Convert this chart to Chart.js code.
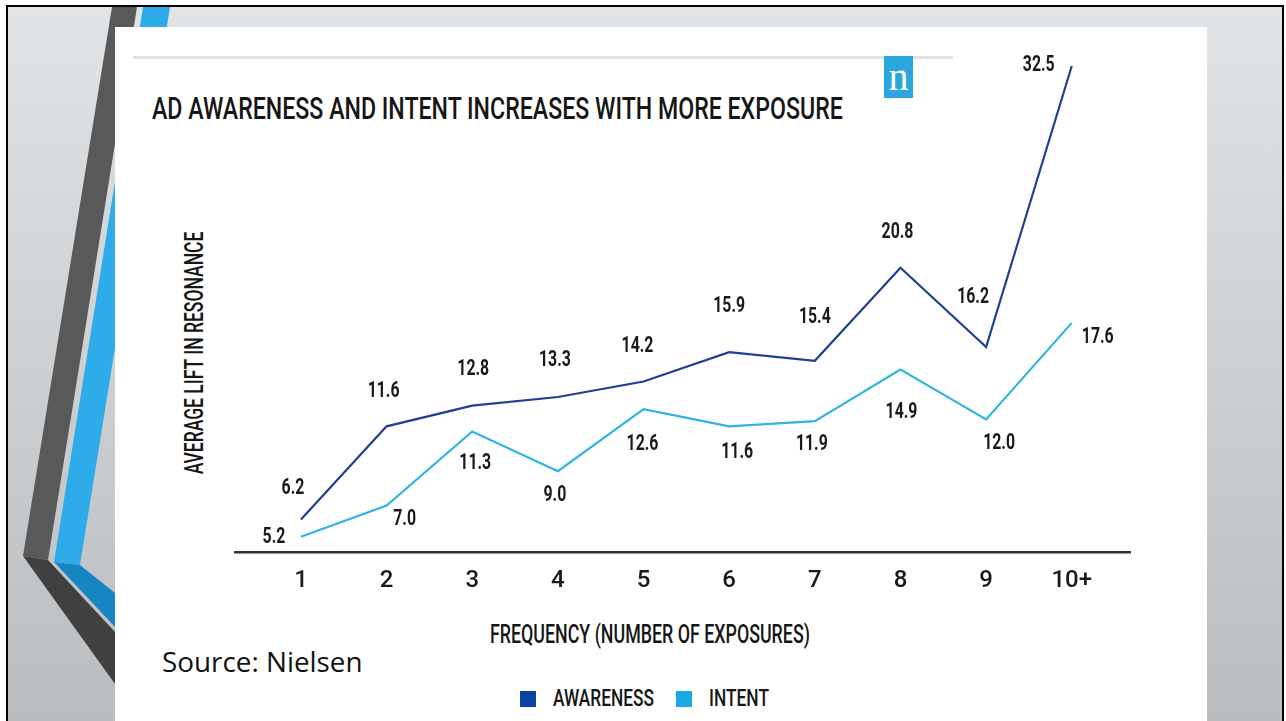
<!DOCTYPE html>
<html lang="en">
<head>
<meta charset="utf-8">
<script src="https://cdn.jsdelivr.net/npm/chart.js"></script>
<style>
  html, body { margin: 0; padding: 0; background: #fff; }
  body { width: 1286px; height: 721px; position: relative; overflow: hidden; }
  #slide {
    position: absolute; left: 6px; top: 5px; width: 1274px; height: 730px;
    border: 2px solid #000; border-bottom: none;
    background: linear-gradient(#e1e4e6, #b8bcbf);
  }
  #deco { position: absolute; left: 0; top: 0; }
  #card { position: absolute; left: 115px; top: 27px; width: 1092px; height: 700px; background: #fff; }
  #rule { position: absolute; left: 133px; top: 56px; width: 820px; height: 3px; background: #e2e2e2; }
  #logo {
    position: absolute; left: 884px; top: 56px; width: 29px; height: 42px; background: #2aa7df;
    color: #fff; font: 40px "Liberation Serif", serif; line-height: 42px; text-align: center;
  }
  .txt { position: absolute; white-space: nowrap; line-height: 1; color: #161616;
         font-family: Roboto, sans-serif; font-weight: 500; transform-origin: 0 0; }
  #title { left: 152px; top: 92px; font-size: 32px; }
  #xtitle { left: 490px; top: 622px; font-size: 25px; }
  #ytitle { font-size: 26px; transform-origin: 50% 50%; }
  #source { left: 162px; top: 648px; font: 27px "Open Sans", sans-serif; line-height: 1; color: #111; }
  .lg-box { position: absolute; width: 16px; height: 16px; }
  canvas { position: absolute; left: 0; top: 0; }
</style>
</head>
<body>
  <div id="slide"></div>
  <svg id="deco" width="1286" height="721">
    <polygon points="112,7 137,7 48,560 23,556" fill="#595959"/>
    <polygon points="23,556 48,560 115,632 115,684" fill="#404040"/>
    <polygon points="143,7 170,7 80,565 54,562" fill="#2eabe9"/>
    <polygon points="54,562 80,565 115,593 115,627" fill="#1686c3"/>
  </svg>
  <div id="card"></div>
  <div id="rule"></div>
  <div id="logo">n</div>
  <div class="txt" id="title" data-w="691">AD AWARENESS AND INTENT INCREASES WITH MORE EXPOSURE</div>
  <div class="txt" id="ytitle" data-w="243">AVERAGE LIFT IN RESONANCE</div>
  <div class="txt" id="xtitle" data-w="320">FREQUENCY (NUMBER OF EXPOSURES)</div>
  <div id="legend"></div>
  <div class="txt" id="source" data-w="201">Source: Nielsen</div>
  <canvas id="chart" width="1286" height="721"></canvas>

<script>
  // frequency buckets and average lift per bucket
  const categories = ['1', '2', '3', '4', '5', '6', '7', '8', '9', '10+'];
  const awareness = [6.2, 11.6, 12.8, 13.3, 14.2, 15.9, 15.4, 20.8, 16.2, 32.5];
  const intent = [5.2, 7.0, 11.3, 9.0, 12.6, 11.6, 11.9, 14.9, 12.0, 17.6];

  // where each value label sits relative to its point (dx, dy)
  const labelOffsets = [
    [[-8, -33], [-3, -37], [1, -39], [-3, -39], [-6, -38], [0, -48], [0, -46], [-3, -38], [-13, -52], [-33, -3]],
    [[-27, -2], [18, 11], [3, 29], [-3, 22], [-1, 33], [8, 24], [-3, 21], [1, 41], [13, 22], [26, 12]]
  ];

  const valueLabels = {
    id: 'valueLabels',
    afterDatasetsDraw(chart) {
      const ctx = chart.ctx;
      chart.data.datasets.forEach((ds, d) => {
        chart.getDatasetMeta(d).data.forEach((pt, i) => {
          const [dx, dy] = labelOffsets[d][i];
          ctx.save();
          ctx.translate(pt.x + dx, pt.y + dy);
          ctx.scale(0.72, 1);
          ctx.font = 'bold 22px Roboto';
          ctx.fillStyle = '#1a1a1a';
          ctx.textAlign = 'center';
          ctx.textBaseline = 'alphabetic';
          ctx.fillText(ds.data[i].y.toFixed(1), 0, 8);
          ctx.restore();
        });
      });
    }
  };

  const chart = new Chart(document.getElementById('chart'), {
    type: 'line',
    data: {
      datasets: [
        {
          label: 'AWARENESS',
          data: awareness.map((v, i) => ({ x: i + 1, y: v })),
          borderColor: '#1f3f8f', backgroundColor: '#0b42a3',
          borderWidth: 2.2, pointRadius: 0, tension: 0, clip: false
        },
        {
          label: 'INTENT',
          data: intent.map((v, i) => ({ x: i + 1, y: v })),
          borderColor: '#2fb4e2', backgroundColor: '#1aa7e6',
          borderWidth: 2.2, pointRadius: 0, tension: 0, clip: false
        }
      ]
    },
    options: {
      responsive: false,
      animation: false,
      devicePixelRatio: 1,
      layout: { padding: { left: 235, right: 156, top: 66, bottom: 112 } },
      plugins: { legend: { display: false }, tooltip: { enabled: false } },
      scales: {
        x: {
          type: 'linear', min: 0.23, max: 10.68,
          grid: { display: false, drawTicks: false },
          border: { display: true, color: '#333', width: 2.5 },
          afterBuildTicks: axis => { axis.ticks = categories.map((c, i) => ({ value: i + 1 })); },
          ticks: {
            autoSkip: false, maxRotation: 0, padding: 14, color: '#1a1a1a',
            font: { family: "'Liberation Sans Narrow', Roboto", size: 24, weight: '500' },
            callback: v => categories[v - 1]
          }
        },
        y: { display: false, min: 4.3, max: 32.5 }
      }
    },
    plugins: [valueLabels]
  });

  // legend from the datasets
  const legend = document.getElementById('legend');
  let lx = 520;
  chart.data.datasets.forEach(ds => {
    const box = document.createElement('div');
    box.className = 'lg-box';
    box.style.left = lx + 'px';
    box.style.top = '691px';
    box.style.background = ds.backgroundColor;
    legend.appendChild(box);
    const t = document.createElement('div');
    t.className = 'txt';
    t.textContent = ds.label;
    t.style.fontSize = '24px';
    t.style.left = (lx + 33) + 'px';
    t.style.top = '686px';
    t.dataset.w = ds.label.length > 6 ? 101 : 60;
    legend.appendChild(t);
    lx += 33 + Number(t.dataset.w) + 22;
  });

  // squeeze text to its width
  document.querySelectorAll('[data-w]').forEach(el => {
    const s = Number(el.dataset.w) / el.offsetWidth;
    if (el.id === 'ytitle') {
      el.style.left = (194 - el.offsetWidth / 2) + 'px';
      el.style.top = (353 - el.offsetHeight / 2) + 'px';
      el.style.transform = 'rotate(-90deg) scaleX(' + s + ')';
    } else {
      el.style.transform = 'scaleX(' + s + ')';
    }
  });
</script>
</body>
</html>
